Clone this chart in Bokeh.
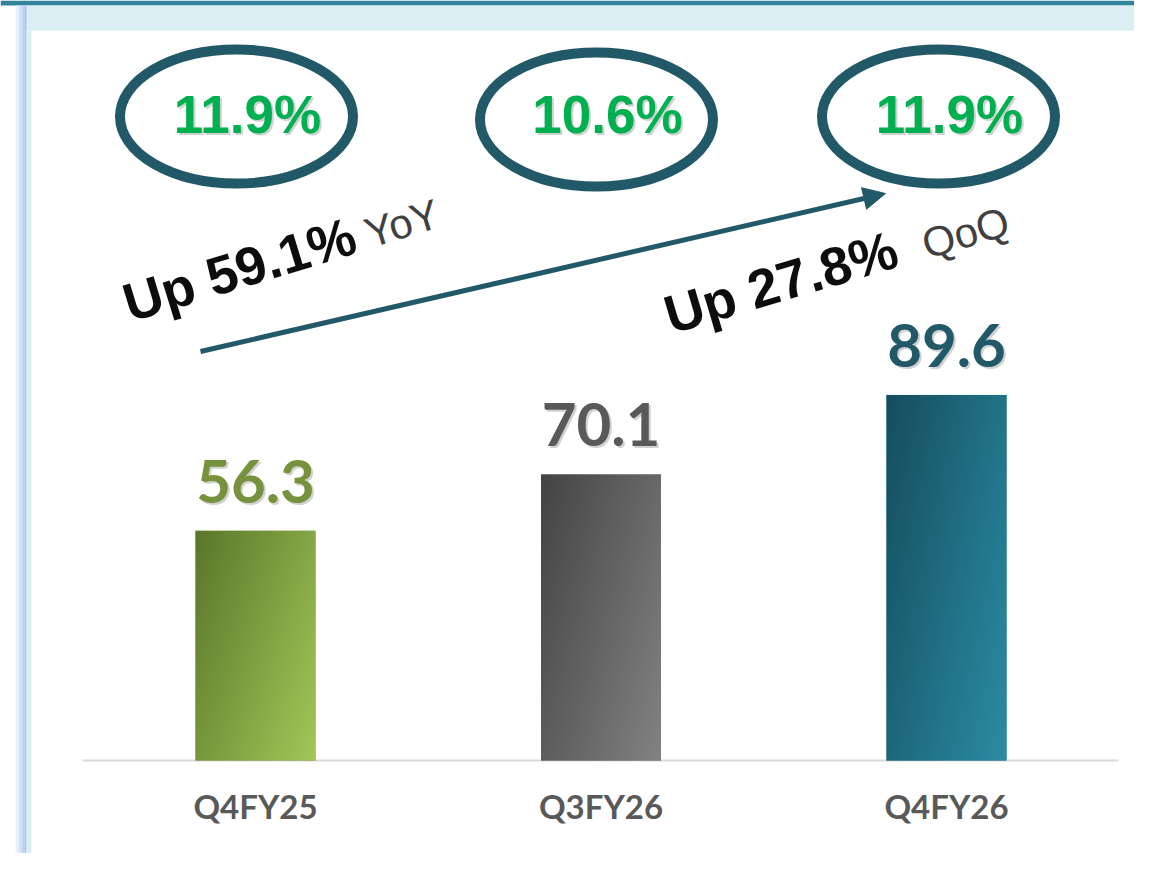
import numpy as np
from bokeh.plotting import figure
from bokeh.models import Range1d, Arrow, NormalHead
from bokeh.core.properties import value
from bokeh.embed import file_html
from bokeh.resources import INLINE

# ---------------- data ----------------
categories = ["Q4FY25", "Q3FY26", "Q4FY26"]
revenue = [56.3, 70.1, 89.6]
revenue_labels = ["56.3", "70.1", "89.6"]
margins = ["11.9%", "10.6%", "11.9%"]
yoy_text = "Up 59.1%"
yoy_tag = "YoY"
qoq_text = "Up 27.8%"
qoq_tag = "QoQ"

# ---------------- styles ----------------
bar_dark = ["#5a772a", "#444444", "#154e5e"]
bar_light = ["#a3c758", "#828282", "#2b8ca4"]
bar_mid = ["#7c9b3f", "#616161", "#1f6e80"]
label_colors = ["#76923c", "#595959", "#215968"]
TEAL = "#215968"

W, H = 1134, 853
X0, X1 = 0, W
Y0, Y1 = 0, H
BASE_Y = 760.0
PX_PER_UNIT = 4.08
CENTER0, STEP = 255.0, 345.5
BAR_W = 120.0 / STEP
BL = 0.375  # baseline correction (em)

x_range = Range1d((X0 - CENTER0) / STEP, (X1 - CENTER0) / STEP)
y_range = Range1d((BASE_Y - Y1) / PX_PER_UNIT, (BASE_Y - Y0) / PX_PER_UNIT)

p = figure(width=W, height=H, x_range=x_range, y_range=y_range,
           output_backend="svg", toolbar_location=None,
           x_axis_location=None, y_axis_location=None,
           min_border=0, outline_line_color=None,
           background_fill_color="white", border_fill_color="white")
p.grid.visible = False
p.extra_x_ranges = {"px": Range1d(X0, X1)}
p.extra_y_ranges = {"px": Range1d(Y1, Y0)}

PX = dict(x_range_name="px", y_range_name="px")

# ---------------- slide decoration ----------------
p.quad(left=[X0], right=[X1], top=[Y0], bottom=[5], fill_color="#31849b", line_color=None, **PX)
p.quad(left=[22], right=[X1], top=[5], bottom=[30], fill_color="#dbeef4", line_color=None, **PX)
for l, r, c in [(15, 18, "#eaf1fc"), (18, 21, "#d3e3f8"), (21, 24, "#bcd4f3"), (24, 26, "#a6c5ee")]:
    p.quad(left=[l], right=[r], top=[5], bottom=[Y1], fill_color=c, line_color=None, **PX)
p.quad(left=[26], right=[31], top=[30], bottom=[Y1], fill_color="#dbeef4", line_color=None, **PX)

# ---------------- baseline ----------------
p.segment(x0=[82], x1=[1118], y0=[0], y1=[0], x_range_name="px",
          line_color="#d9d9d9", line_width=2)

# ---------------- bars ----------------
xs = list(range(len(categories)))
p.vbar(x=xs, top=revenue, bottom=0, width=BAR_W, fill_color=bar_mid, line_color=None)


def gradient(c0, c1, nx=120, ny=360):
    a = np.array([int(c0[i:i + 2], 16) for i in (1, 3, 5)], dtype=float)
    b = np.array([int(c1[i:i + 2], 16) for i in (1, 3, 5)], dtype=float)
    u = np.linspace(0, 1, nx)[None, :]
    v = np.linspace(0, 1, ny)[:, None]
    t = (u * 0.6 + (1 - v) * 0.4)
    img = np.empty((ny, nx), dtype=np.uint32)
    view = img.view(dtype=np.uint8).reshape((ny, nx, 4))
    for k in range(3):
        view[:, :, k] = np.clip(a[k] + (b[k] - a[k]) * t, 0, 255).astype(np.uint8)
    view[:, :, 3] = 255
    return img


for i, val in enumerate(revenue):
    p.image_rgba(image=[gradient(bar_dark[i], bar_light[i])],
                 x=[xs[i] - BAR_W / 2], y=[0], dw=[BAR_W], dh=[val])

# value labels (shadow + text)
VFS = 60
p.text(x=xs, y=revenue, text=revenue_labels, x_offset=2, y_offset=-27 + 2 - BL * VFS,
       text_align="center", text_baseline="alphabetic",
       text_font=value("Lato"), text_font_style="bold", text_font_size=f"{VFS}px",
       text_color="#9a9a9a", text_alpha=0.45)
p.text(x=xs, y=revenue, text=revenue_labels, y_offset=-27 - BL * VFS,
       text_align="center", text_baseline="alphabetic",
       text_font=value("Lato"), text_font_style="bold", text_font_size=f"{VFS}px",
       text_color=label_colors)

# category labels
CFS = 33
p.text(x=xs, y=[0] * len(xs), text=categories, y_offset=58 - BL * CFS,
       text_align="center", text_baseline="alphabetic",
       text_font=value("Lato"), text_font_style="bold", text_font_size=f"{CFS}px",
       text_color="#595959")

# ---------------- margin ellipses ----------------
ell_x = [236, 596, 938]
ell_y = [116, 119, 116]
p.ellipse(x=ell_x, y=ell_y, width=233, height=134, width_units="screen",
          height_units="screen", fill_color=None, line_color=TEAL, line_width=10, **PX)
PFS = 53
txt_x = [247, 607, 949]
p.text(x=[t + 2 for t in txt_x], y=[136 - BL * PFS] * 3, text=margins, text_align="center",
       text_baseline="alphabetic", text_font=value("Liberation Sans"),
       text_font_style="bold", text_font_size=f"{PFS}px", text_color="#9a9a9a",
       text_alpha=0.45, **PX)
p.text(x=txt_x, y=[134 - BL * PFS] * 3, text=margins, text_align="center",
       text_baseline="alphabetic", text_font=value("Liberation Sans"),
       text_font_style="bold", text_font_size=f"{PFS}px", text_color="#00b050", **PX)

# ---------------- growth arrow & texts ----------------
p.add_layout(Arrow(end=NormalHead(size=22, fill_color=TEAL, line_color=TEAL, line_width=1),
                   x_start=200, y_start=351, x_end=885, y_end=193,
                   line_color=TEAL, line_width=5, **PX))


def rot_text(x, y, s, deg, fs, bold, color):
    a = np.deg2rad(deg)
    d = BL * fs
    p.text(x=[x - d * np.sin(a)], y=[y - d * np.cos(a)], text=[s], angle=a,
           text_align="left", text_baseline="alphabetic",
           text_font=value("Liberation Sans"),
           text_font_style="bold" if bold else "normal",
           text_font_size=f"{fs}px", text_color=color, **PX)


rot_text(130, 323, yoy_text, 17.0, 54, True, "#0d0d0d")
rot_text(370, 249, yoy_tag, 17.0, 42, False, "#404040")
rot_text(671, 335, qoq_text, 16.5, 54, True, "#0d0d0d")
rot_text(927, 260, qoq_tag, 16.5, 42, False, "#404040")

open("out.html", "w").write(file_html(p, INLINE))
